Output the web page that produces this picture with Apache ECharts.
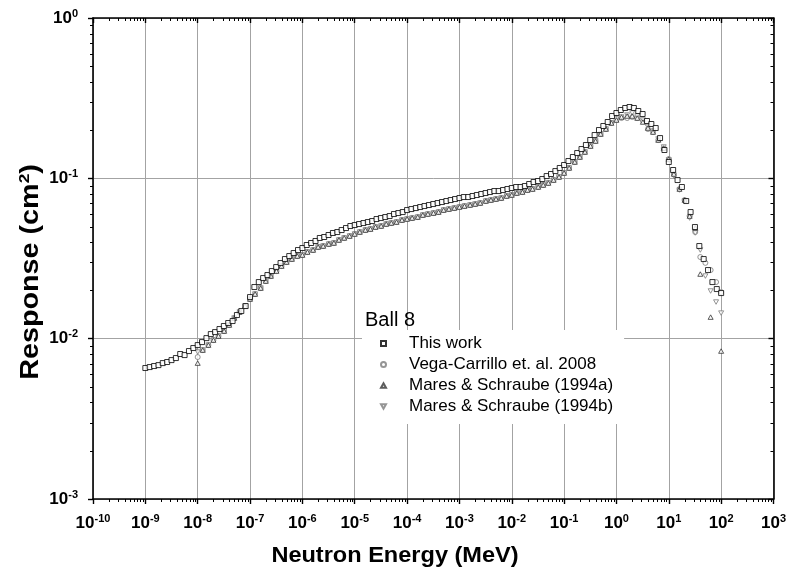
<!DOCTYPE html>
<html>
<head>
<meta charset="utf-8">
<script src="https://cdn.jsdelivr.net/npm/echarts@6/dist/echarts.min.js"></script>
<style>
  html, body { margin: 0; padding: 0; background: #fff; }
  #chart { width: 789px; height: 573px; }
</style>
</head>
<body>
<div id="chart"></div>
<script>
// Ball 8 response function: neutron energy (MeV) vs response (cm^2)

const workEnergy = [
  1e-9, 1.21e-9, 1.47e-9, 1.78e-9, 2.15e-9, 2.61e-9, 3.16e-9, 3.83e-9, 4.64e-9, 5.62e-9, 6.81e-9, 8.25e-9,
  1e-8, 1.21e-8, 1.47e-8, 1.78e-8, 2.15e-8, 2.61e-8, 3.16e-8, 3.83e-8, 4.64e-8, 5.62e-8, 6.81e-8, 8.25e-8,
  1e-7, 1.21e-7, 1.47e-7, 1.78e-7, 2.15e-7, 2.61e-7, 3.16e-7, 3.83e-7, 4.64e-7, 5.62e-7, 6.81e-7, 8.25e-7,
  1e-6, 1.21e-6, 1.47e-6, 1.78e-6, 2.15e-6, 2.61e-6, 3.16e-6, 3.83e-6, 4.64e-6, 5.62e-6, 6.81e-6, 8.25e-6,
  1e-5, 1.21e-5, 1.47e-5, 1.78e-5, 2.15e-5, 2.61e-5, 3.16e-5, 3.83e-5, 4.64e-5, 5.62e-5, 6.81e-5, 8.25e-5,
  1e-4, 1.21e-4, 1.47e-4, 1.78e-4, 2.15e-4, 2.61e-4, 3.16e-4, 3.83e-4, 4.64e-4, 5.62e-4, 6.81e-4, 8.25e-4,
  1e-3, 1.21e-3, 1.47e-3, 1.78e-3, 2.15e-3, 2.61e-3, 3.16e-3, 3.83e-3, 4.64e-3, 5.62e-3, 6.81e-3, 8.25e-3,
  1e-2, 1.21e-2, 1.47e-2, 1.78e-2, 2.15e-2, 2.61e-2, 3.16e-2, 3.83e-2, 4.64e-2, 5.62e-2, 6.81e-2, 8.25e-2,
  1e-1, 1.21e-1, 1.47e-1, 1.78e-1, 2.15e-1, 2.61e-1, 3.16e-1, 3.83e-1, 4.64e-1, 5.62e-1, 6.81e-1, 8.25e-1,
  1, 1.21, 1.47, 1.78, 2.15, 2.61, 3.16, 3.83, 4.64, 5.62, 6.81, 8.25,
  10, 12.1, 14.7, 17.8, 21.5, 26.1, 31.6, 38.3, 46.4, 56.2, 68.1, 82.5,
  100
];

const workResponse = [
  0.00656, 0.00665, 0.00675, 0.00684, 0.00704, 0.00715, 0.00735, 0.00757, 0.00802, 0.00790, 0.00837, 0.00874,
  0.00912, 0.00952, 0.01008, 0.01068, 0.01099, 0.01148, 0.01199, 0.01252, 0.01288, 0.01404, 0.01487, 0.01597,
  0.01817, 0.02099, 0.02254, 0.02388, 0.02493, 0.02640, 0.02796, 0.02962, 0.03137, 0.03275, 0.03420, 0.03571,
  0.03676, 0.03838, 0.03950, 0.04066, 0.04245, 0.04306, 0.04431, 0.04561, 0.04624, 0.04759, 0.04898, 0.05041,
  0.05113, 0.05187, 0.05262, 0.05338, 0.05415, 0.05573, 0.05653, 0.05735, 0.05818, 0.05988, 0.06074, 0.06162,
  0.06341, 0.06433, 0.06526, 0.06622, 0.06717, 0.06814, 0.06913, 0.07013, 0.07115, 0.07218, 0.07322, 0.07428,
  0.07536, 0.07644, 0.07644, 0.07756, 0.07868, 0.07982, 0.08097, 0.08214, 0.08333, 0.08333, 0.08453, 0.08576,
  0.08700, 0.08826, 0.08826, 0.08954, 0.09215, 0.09483, 0.09620, 0.09900, 0.1033, 0.1064, 0.1110, 0.1160,
  0.1211, 0.1282, 0.1358, 0.1438, 0.1523, 0.1613, 0.1734, 0.1862, 0.2001, 0.2120, 0.2245, 0.2447,
  0.2555, 0.2668, 0.2746, 0.2785, 0.2746, 0.2630, 0.2518, 0.2278, 0.2182, 0.2059, 0.1783, 0.1502,
  0.1264, 0.1127, 0.09759, 0.08826, 0.07218, 0.06162, 0.04969, 0.03782, 0.03137, 0.02679, 0.02254, 0.02039,
  0.01925
];

const refEnergy = [
  1e-8, 1.25e-8, 1.6e-8, 2e-8, 2.5e-8, 3.2e-8, 4e-8, 5e-8, 6.3e-8, 8e-8,
  1e-7, 1.25e-7, 1.6e-7, 2e-7, 2.5e-7, 3.2e-7, 4e-7, 5e-7, 6.3e-7, 8e-7,
  1e-6, 1.25e-6, 1.6e-6, 2e-6, 2.5e-6, 3.2e-6, 4e-6, 5e-6, 6.3e-6, 8e-6,
  1e-5, 1.25e-5, 1.6e-5, 2e-5, 2.5e-5, 3.2e-5, 4e-5, 5e-5, 6.3e-5, 8e-5,
  1e-4, 1.25e-4, 1.6e-4, 2e-4, 2.5e-4, 3.2e-4, 4e-4, 5e-4, 6.3e-4, 8e-4,
  1e-3, 1.25e-3, 1.6e-3, 2e-3, 2.5e-3, 3.2e-3, 4e-3, 5e-3, 6.3e-3, 8e-3,
  1e-2, 1.25e-2, 1.6e-2, 2e-2, 2.5e-2, 3.2e-2, 4e-2, 5e-2, 6.3e-2, 8e-2,
  1e-1, 1.25e-1, 1.6e-1, 2e-1, 2.5e-1, 3.2e-1, 4e-1, 5e-1, 6.3e-1, 8e-1,
  1, 1.25, 1.6, 2, 2.5, 3.2, 4, 5, 6.3, 8,
  10, 12.5, 16, 20, 25, 32, 40, 50, 63, 80,
  100
];

const vegaResponse = [
  0.00768, 0.00849, 0.00912, 0.00980, 0.01038, 0.01115, 0.01216, 0.01344, 0.01465, 0.01597,
  0.01766, 0.01897, 0.02068, 0.02287, 0.02457, 0.02640, 0.02837, 0.03005, 0.03137, 0.03275,
  0.03323, 0.03469, 0.03571, 0.03729, 0.03782, 0.03892, 0.03950, 0.04124, 0.04245, 0.04365,
  0.04494, 0.04624, 0.04759, 0.04828, 0.04969, 0.05041, 0.05187, 0.05262, 0.05338, 0.05492,
  0.05573, 0.05653, 0.05735, 0.05902, 0.05988, 0.06074, 0.06162, 0.06341, 0.06433, 0.06526,
  0.06622, 0.06717, 0.06814, 0.06913, 0.07013, 0.07218, 0.07322, 0.07428, 0.07536, 0.07756,
  0.07868, 0.08097, 0.08214, 0.08453, 0.08576, 0.08826, 0.09083, 0.09348, 0.09759, 0.1019,
  0.1079, 0.1160, 0.1264, 0.1358, 0.1459, 0.1590, 0.1709, 0.1889, 0.2030, 0.2213,
  0.2311, 0.2377, 0.2377, 0.2412, 0.2377, 0.2278, 0.2030, 0.1944, 0.1734, 0.1545,
  0.1319, 0.1064, 0.08576, 0.07322, 0.05818, 0.04624, 0.03229, 0.02970, 0.02679, 0.02254,
  0.01953
];

const maresAResponse = [
  0.00704, 0.00849, 0.00912, 0.00980, 0.01038, 0.01115, 0.01216, 0.01344, 0.01465, 0.01597,
  0.01766, 0.01897, 0.02068, 0.02287, 0.02457, 0.02640, 0.02837, 0.03005, 0.03137, 0.03275,
  0.03323, 0.03469, 0.03571, 0.03729, 0.03782, 0.03892, 0.03950, 0.04124, 0.04245, 0.04365,
  0.04494, 0.04624, 0.04759, 0.04828, 0.04969, 0.05041, 0.05187, 0.05262, 0.05338, 0.05492,
  0.05573, 0.05653, 0.05735, 0.05902, 0.05988, 0.06074, 0.06162, 0.06341, 0.06433, 0.06526,
  0.06622, 0.06717, 0.06814, 0.06913, 0.07013, 0.07218, 0.07322, 0.07428, 0.07536, 0.07756,
  0.07868, 0.08097, 0.08214, 0.08453, 0.08576, 0.08826, 0.09083, 0.09348, 0.09759, 0.1019,
  0.1079, 0.1160, 0.1264, 0.1358, 0.1459, 0.1590, 0.1709, 0.1889, 0.2030, 0.2213,
  0.2311, 0.2412, 0.2447, 0.2447, 0.2377, 0.2245, 0.2059, 0.1944, 0.1734, 0.1545,
  0.1319, 0.1064, 0.08576, 0.07322, 0.05818, 0.04900, 0.02529, null, 0.01363, null,
  0.00837
];

const maresBResponse = [
  0.00825, 0.00849, 0.00912, 0.00980, 0.01038, 0.01115, 0.01216, 0.01344, 0.01465, 0.01597,
  0.01766, 0.01897, 0.02068, 0.02287, 0.02457, 0.02640, 0.02837, 0.03005, 0.03137, 0.03275,
  0.03323, 0.03469, 0.03571, 0.03729, 0.03782, 0.03892, 0.03950, 0.04124, 0.04245, 0.04365,
  0.04494, 0.04624, 0.04759, 0.04828, 0.04969, 0.05041, 0.05187, 0.05262, 0.05338, 0.05492,
  0.05573, 0.05653, 0.05735, 0.05902, 0.05988, 0.06074, 0.06162, 0.06341, 0.06433, 0.06526,
  0.06622, 0.06717, 0.06814, 0.06913, 0.07013, 0.07218, 0.07322, 0.07428, 0.07536, 0.07756,
  0.07868, 0.08097, 0.08214, 0.08453, 0.08576, 0.08826, 0.09083, 0.09348, 0.09759, 0.1019,
  0.1079, 0.1160, 0.1264, 0.1358, 0.1459, 0.1590, 0.1709, 0.1889, 0.2030, 0.2213,
  0.2344, 0.2412, 0.2483, 0.2555, 0.2447, 0.2311, 0.2089, 0.1972, 0.1759, 0.1568,
  0.1301, 0.1033, 0.08453, 0.07218, 0.05653, 0.04561, 0.03571, 0.02457, 0.01982, 0.01692,
  0.01444
];

const seriesNames = ['This work', 'Vega-Carrillo et. al. 2008', 'Mares & Schraube (1994a)', 'Mares & Schraube (1994b)'];
const legendTitle = 'Ball 8';
const xTitle = 'Neutron Energy (MeV)';
const yTitle = '{t|Response (cm}{u|2}{t|)}';
const xRange = [1e-10, 1e3];
const yRange = [1e-3, 1];

const FONT = '"Liberation Sans", Arial, Helvetica, sans-serif';
const GRID_COLOR = '#a3a3a3';

// Marker outlines (paths keep their aspect ratio, also in the legend)
const SQUARE = 'path://M0,0L10,0L10,10L0,10Z';
const TRIANGLE_UP = 'path://M5,0L10,9L0,9Z';
const TRIANGLE_DOWN = 'path://M0,0L10,0L5,9Z';

function pairs(xs, ys) {
  const out = [];
  xs.forEach((x, i) => { if (ys[i] != null) out.push([x, ys[i]]); });
  return out;
}

function powerLabel(v) {
  const e = Math.round(Math.log10(v));
  return '{b|10}{s|' + e + '}';
}

const labelRich = {
  b: { fontFamily: FONT, fontSize: 17, fontWeight: 'bold', color: '#000', lineHeight: 20 },
  s: { fontFamily: FONT, fontSize: 11, fontWeight: 'bold', color: '#000', lineHeight: 12, verticalAlign: 'top' }
};

const axisLineStyle = { color: '#000', width: 1.6 };

function logAxis(extra) {
  return Object.assign({
    type: 'log', logBase: 10, interval: 1,
    axisLine: { show: true, lineStyle: axisLineStyle },
    axisTick: { show: true, length: 5, lineStyle: { color: '#000', width: 1.4 } },
    splitLine: { show: false },
    minorTick: { show: false },
    axisLabel: { show: false }
  }, extra);
}

// Minor ticks (2..9 within each decade) on all four frame edges
function renderMinorTicks(params, api) {
  const cs = params.coordSys;
  const left = cs.x, right = cs.x + cs.width, top = cs.y, bottom = cs.y + cs.height;
  const len = 3;
  const style = { stroke: '#000', lineWidth: 1 };
  const children = [];
  const xe0 = Math.round(Math.log10(xRange[0])), xe1 = Math.round(Math.log10(xRange[1]));
  const ye0 = Math.round(Math.log10(yRange[0])), ye1 = Math.round(Math.log10(yRange[1]));
  for (let k = xe0; k < xe1; k++) {
    for (let m = 2; m <= 9; m++) {
      const x = Math.round(api.coord([m * Math.pow(10, k), 0.1])[0]) + 0.5;
      children.push({ type: 'line', shape: { x1: x, y1: bottom, x2: x, y2: bottom + len }, style });
      children.push({ type: 'line', shape: { x1: x, y1: top, x2: x, y2: top + len }, style });
    }
  }
  for (let k = ye0; k < ye1; k++) {
    for (let m = 2; m <= 9; m++) {
      const y = Math.round(api.coord([1, m * Math.pow(10, k)])[1]) + 0.5;
      children.push({ type: 'line', shape: { x1: left - len, y1: y, x2: left, y2: y }, style });
      children.push({ type: 'line', shape: { x1: right - len, y1: y, x2: right, y2: y }, style });
    }
  }
  return { type: 'group', children };
}

const chart = echarts.init(document.getElementById('chart'), null, { renderer: 'canvas' });

chart.setOption({
  animation: false,
  backgroundColor: '#fff',
  grid: { left: 93, top: 18, right: 15, bottom: 74, containLabel: false },
  xAxis: [
    logAxis({
      position: 'bottom', min: xRange[0], max: xRange[1],
      axisLabel: { show: true, formatter: powerLabel, rich: labelRich, margin: 14 },
      splitLine: { show: true, lineStyle: { color: GRID_COLOR, width: 1 } }
    }),
    logAxis({
      position: 'top', min: xRange[0], max: xRange[1],
      axisTick: { show: true, inside: true, length: 5, lineStyle: { color: '#000', width: 1.4 } }
    })
  ],
  yAxis: [
    logAxis({
      position: 'left', min: yRange[0], max: yRange[1],
      axisLabel: { show: true, formatter: powerLabel, rich: labelRich, margin: 15 },
      splitLine: { show: true, lineStyle: { color: GRID_COLOR, width: 1 } }
    }),
    logAxis({
      position: 'right', min: yRange[0], max: yRange[1],
      axisTick: { show: true, inside: true, length: 5, lineStyle: { color: '#000', width: 1.4 } }
    })
  ],
  legend: {
    data: seriesNames,
    orient: 'vertical',
    left: 362, top: 330,
    padding: [5, 11, 9, 18],
    itemWidth: 5, itemHeight: 5, itemGap: 4,
    symbolKeepAspect: true,
    backgroundColor: '#fff',
    selectedMode: false,
    textStyle: { fontFamily: FONT, fontSize: 17, color: '#000', lineHeight: 16, padding: [0, 0, 0, 18] },
    z: 10
  },
  graphic: [
    {
      type: 'text', left: 365, top: 310, z: 20,
      style: { text: legendTitle, font: '20px ' + FONT, fill: '#000' }
    },
    {
      type: 'text', x: 395, y: 556, scaleX: 1.07, z: 20,
      style: {
        text: xTitle, font: 'bold 22px ' + FONT, fill: '#000',
        align: 'center', verticalAlign: 'middle', textAlign: 'center', textVerticalAlign: 'middle'
      }
    },
    {
      type: 'text', x: 31, y: 272, rotation: Math.PI / 2, scaleX: 1.15, z: 20,
      style: {
        text: yTitle,
        align: 'center', verticalAlign: 'middle', textAlign: 'center', textVerticalAlign: 'middle',
        rich: {
          t: { fontFamily: FONT, fontSize: 25, fontWeight: 'bold', fill: '#000', lineHeight: 28 },
          u: { fontFamily: FONT, fontSize: 15, fontWeight: 'bold', fill: '#000', lineHeight: 14, verticalAlign: 'top' }
        }
      }
    }
  ],
  series: [
    {
      name: seriesNames[0], type: 'scatter', z: 6,
      data: pairs(workEnergy, workResponse),
      symbol: SQUARE, symbolSize: 5, symbolKeepAspect: true,
      itemStyle: { color: '#fff', borderColor: '#000', borderWidth: 1 },
      emphasis: { disabled: true }
    },
    {
      name: seriesNames[1], type: 'scatter', z: 3,
      data: pairs(refEnergy, vegaResponse),
      symbol: 'circle', symbolSize: 5,
      itemStyle: { color: '#fff', borderColor: '#7a7a7a', borderWidth: 1 },
      emphasis: { disabled: true }
    },
    {
      name: seriesNames[2], type: 'scatter', z: 4,
      data: pairs(refEnergy, maresAResponse),
      symbol: TRIANGLE_UP, symbolSize: 5, symbolKeepAspect: true,
      itemStyle: { color: '#fff', borderColor: '#333', borderWidth: 1 },
      emphasis: { disabled: true }
    },
    {
      name: seriesNames[3], type: 'scatter', z: 3,
      data: pairs(refEnergy, maresBResponse),
      symbol: TRIANGLE_DOWN, symbolSize: 5, symbolKeepAspect: true,
      itemStyle: { color: '#fff', borderColor: '#7a7a7a', borderWidth: 1 },
      emphasis: { disabled: true }
    },
    {
      type: 'custom', silent: true, z: 8,
      data: [[1, 0.1]],
      renderItem: renderMinorTicks
    }
  ]
});
</script>
</body>
</html>
